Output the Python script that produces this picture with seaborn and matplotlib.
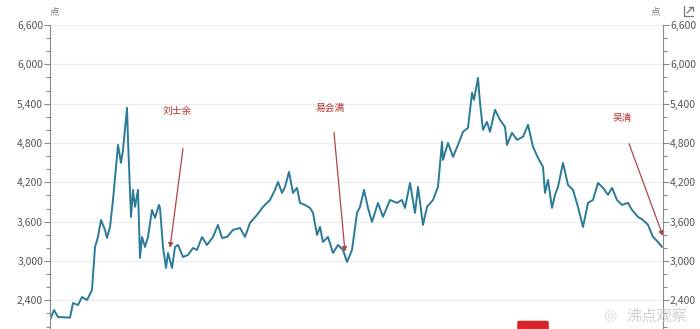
import matplotlib
matplotlib.use("Agg")
import matplotlib.pyplot as plt
import seaborn as sns
import pandas as pd
from matplotlib.ticker import MultipleLocator, FuncFormatter
from matplotlib.patches import FancyBboxPatch
from matplotlib.lines import Line2D

# position along the time axis and index level (points)
t = [50, 54, 58, 70, 73, 78, 82, 87, 92, 95, 98, 101, 105, 107, 110, 113, 118, 121,
     123, 127, 128, 131, 133, 135, 138, 140, 142, 145, 148, 152, 155, 159, 160, 163,
     166, 168, 172, 175, 178, 183, 188, 193, 197, 202, 207, 213, 218, 222, 227, 233,
     240, 245, 250, 257, 263, 270, 275, 278, 282, 285, 289, 293, 297, 300, 305, 310,
     313, 317, 320, 323, 328, 333, 338, 343, 347, 352, 357, 360, 364, 368, 372, 378,
     383, 390, 397, 402, 405, 410, 415, 418, 423, 427, 433, 438, 442, 443, 448, 453,
     458, 463, 468, 472, 474, 478, 480, 483, 487, 490, 495, 500, 505, 507, 512, 517,
     523, 528, 533, 538, 543, 545, 548, 552, 555, 558, 563, 568, 573, 578, 583, 588,
     593, 598, 603, 608, 612, 617, 622, 628, 632, 638, 643, 648, 653, 658, 662]
level = [2099, 2252, 2145, 2135, 2359, 2328, 2450, 2404, 2557, 3214, 3366, 3626, 3473,
         3351, 3519, 3931, 4771, 4496, 4695, 5336, 4848, 3672, 4084, 3825, 4084, 3046,
         3366, 3214, 3366, 3779, 3657, 3855, 3809, 3214, 2893, 3122, 2893, 3214, 3244,
         3061, 3092, 3198, 3168, 3366, 3244, 3366, 3550, 3351, 3366, 3473, 3504, 3366,
         3580, 3702, 3825, 3931, 4084, 4206, 4038, 4130, 4359, 4038, 4115, 3886, 3855,
         3809, 3733, 3397, 3519, 3290, 3366, 3122, 3244, 3168, 2985, 3168, 3733, 3825,
         4084, 3809, 3596, 3886, 3672, 3931, 3886, 3931, 3809, 4191, 3733, 4130, 3550,
         3825, 3931, 4130, 4817, 4542, 4802, 4588, 4771, 4970, 5031, 5565, 5458, 5794,
         5412, 5000, 5122, 4970, 5306, 5153, 5046, 4771, 4955, 4848, 4894, 5077, 4741,
         4573, 4435, 4038, 4237, 3809, 4008, 4130, 4496, 4160, 4084, 3825, 3519, 3886,
         3931, 4191, 4115, 4008, 4115, 3931, 3855, 3886, 3779, 3672, 3626, 3550, 3366,
         3290, 3214]

# annotations: name, label position (t, level), arrow start, arrow tip
names = ["刘士余", "易会满", "吴清"]
label_pos = [(177, 5290), (330, 5330), (622, 5180)]
arrow_from = [(183, 4715), (334, 4960), (629, 4790)]
arrow_to = [(170, 3200), (345, 3140), (663, 3380)]

yticks = [2400, 3000, 3600, 4200, 4800, 5400, 6000, 6600]

df = pd.DataFrame({"t": t, "level": level})

sns.set_style("white")
plt.rcParams["font.family"] = ["Noto Sans CJK SC", "DejaVu Sans"]

fig = plt.figure(figsize=(7.0, 3.29), dpi=100)
ax = fig.add_axes([50 / 700, 0.0, 613 / 700, 1 - 25 / 329])

sns.lineplot(data=df, x="t", y="level", ax=ax, color="#2b7a98", linewidth=1.4)

ax.set_xlim(50, 663)
ax.set_ylim(1962, 6600)
ax.yaxis.set_minor_locator(MultipleLocator(200))
ax.set_yticks(yticks)
ax.yaxis.set_major_formatter(FuncFormatter(lambda v, p: f"{int(v):,}"))
ax.grid(axis="y", color="#ececec", linewidth=0.8)
ax.set_xticks([])
ax.set_xlabel("")
ax.set_ylabel("")
for s in ["top", "bottom", "right"]:
    ax.spines[s].set_visible(False)
ax.spines["left"].set_color("#8a8a8a")
ax.spines["left"].set_linewidth(0.8)
ax.tick_params(axis="y", which="major", direction="out", length=4, width=0.8,
               color="#8a8a8a", labelsize=7.5, labelcolor="#555555", pad=1, left=True)
ax.tick_params(axis="y", which="minor", direction="out", length=3, width=0.8,
               color="#8a8a8a", left=True)

ax2 = ax.twinx()
ax2.set_ylim(ax.get_ylim())
ax2.yaxis.set_minor_locator(MultipleLocator(200))
ax2.set_yticks(yticks)
ax2.yaxis.set_major_formatter(FuncFormatter(lambda v, p: f"{int(v):,}"))
for s in ["top", "bottom", "left"]:
    ax2.spines[s].set_visible(False)
ax2.spines["right"].set_color("#8a8a8a")
ax2.spines["right"].set_linewidth(0.8)
ax2.tick_params(axis="y", which="major", direction="out", length=4, width=0.8,
                color="#8a8a8a", labelsize=7.5, labelcolor="#555555", pad=1, right=True)
ax2.tick_params(axis="y", which="minor", direction="out", length=3, width=0.8,
                color="#8a8a8a", right=True)
ax2.grid(False)

for name, lp, af, at in zip(names, label_pos, arrow_from, arrow_to):
    ax.text(lp[0], lp[1], name, color="#b5342f", fontsize=7, ha="center", va="center")
    ax.annotate("", xy=at, xytext=af, annotation_clip=False,
                arrowprops=dict(arrowstyle="-|>", color="#b0454a", lw=0.9,
                                mutation_scale=7, shrinkA=0, shrinkB=0))

fig.text(50 / 700, 1 - 11 / 329, "点", fontsize=7, color="#777777", ha="left", va="center")
fig.text(660 / 700, 1 - 11 / 329, "点", fontsize=7, color="#777777", ha="right", va="center")

# small export icon at top right (drawn as a shape)
W, H = 700, 329
icon = [([684, 684, 693], [6, 16, 16]), ([687, 693], [13, 7]), ([689, 693, 693], [7, 7, 11])]
for xs, ys in icon:
    fig.lines.append(Line2D([x / W for x in xs], [1 - y / H for y in ys],
                            transform=fig.transFigure, color="#777777", lw=0.9))

# watermark
fig.text(657 / 700, 1 - 316 / 329, "沸点观察", fontsize=11, color="#d0d0d0",
         ha="center", va="center")
fig.text(610 / 700, 1 - 316 / 329, "◎", fontsize=11, color="#d8d8d8",
         ha="center", va="center", family=["DejaVu Sans"])
fig.patches.append(FancyBboxPatch((520 / 700, -0.01), 26 / 700, 0.03,
                                  boxstyle="round,pad=0.003", transform=fig.transFigure,
                                  color="#d9252a", figure=fig))

fig.savefig("out.png", dpi=100)
